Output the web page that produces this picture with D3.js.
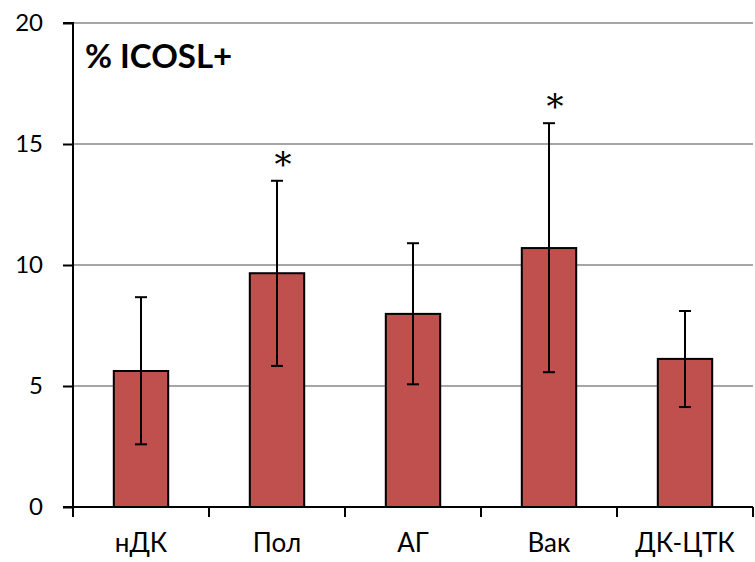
<!DOCTYPE html>
<html><head><meta charset="utf-8">
<script src="https://cdn.jsdelivr.net/npm/d3@7"></script>
<style>body{margin:0;background:#fff}svg{display:block}</style>
</head><body>
<script>
const categories = ["нДК", "Пол", "АГ", "Вак", "ДК-ЦТК"];
const values = [5.62, 9.66, 7.98, 10.70, 6.12];
const errUpper = [8.67, 13.48, 10.9, 15.86, 8.1];
const errLower = [2.59, 5.83, 5.07, 5.57, 4.13];
const significant = [false, true, false, true, false];
const yTicks = [0, 5, 10, 15, 20];
const title = "% ICOSL+";

const W = 755, H = 562;
const svg = d3.select("body").append("svg").attr("width", W).attr("height", H);
const font = "Lato, 'Open Sans', sans-serif";

const x = d3.scaleBand().domain(categories).range([73, 753]).paddingInner(0).paddingOuter(0);
const y = d3.scaleLinear().domain([0, 20]).range([507, 23]);

// gridlines
svg.append("g").selectAll("line").data(yTicks.filter(d => d > 0)).join("line")
  .attr("x1", 73).attr("x2", 753)
  .attr("y1", d => y(d)).attr("y2", d => y(d))
  .attr("stroke", "#898989").attr("stroke-width", 1.5);

// bars
const bw = x.bandwidth() * 0.4;
svg.append("g").selectAll("rect").data(values).join("rect")
  .attr("x", (d, i) => x(categories[i]) + x.bandwidth() / 2 - bw / 2)
  .attr("y", d => y(d))
  .attr("width", bw)
  .attr("height", d => y(0) - y(d))
  .attr("fill", "#C0504D").attr("stroke", "#000").attr("stroke-width", 2);

// error bars
const eg = svg.append("g").attr("stroke", "#000").attr("stroke-width", 2);
categories.forEach((c, i) => {
  const cx = x(c) + x.bandwidth() / 2;
  eg.append("line").attr("x1", cx).attr("x2", cx).attr("y1", y(errUpper[i])).attr("y2", y(errLower[i]));
  eg.append("line").attr("x1", cx - 6).attr("x2", cx + 6).attr("y1", y(errUpper[i])).attr("y2", y(errUpper[i]));
  eg.append("line").attr("x1", cx - 6).attr("x2", cx + 6).attr("y1", y(errLower[i])).attr("y2", y(errLower[i]));
  if (significant[i]) {
    svg.append("text").attr("x", cx + 6).attr("y", y(errUpper[i]) - 5)
      .attr("text-anchor", "middle")
      .attr("font-family", "'DejaVu Serif', 'Liberation Serif', serif").attr("font-size", 34)
      .text("*");
  }
});

// y axis
const yAxis = d3.axisLeft(y).tickValues(yTicks).tickSize(10).tickPadding(20).tickFormat(d3.format("d"));
const ya = svg.append("g").attr("transform", "translate(73,0)").call(yAxis);
ya.select(".domain").attr("stroke", "#000").attr("stroke-width", 2).attr("d", "M-10,23H0V507H-10");
ya.selectAll(".tick line").attr("stroke", "#000").attr("stroke-width", 2);
ya.selectAll(".tick text").attr("font-family", font).attr("font-size", 24).attr("fill", "#000");

// x axis
const xAxis = d3.axisBottom(x).tickSize(0).tickPadding(27);
const xa = svg.append("g").attr("transform", "translate(0,507)").call(xAxis);
xa.select(".domain").attr("stroke", "#000").attr("stroke-width", 2).attr("d", "M63,0H753");
xa.selectAll(".tick text").attr("font-family", font).attr("font-size", 26).attr("fill", "#000");
const xTickPos = d3.range(categories.length + 1).map(i => 73 + i * x.bandwidth());
xa.append("g").selectAll("line").data(xTickPos).join("line")
  .attr("x1", d => d).attr("x2", d => d).attr("y1", 0).attr("y2", 10)
  .attr("stroke", "#000").attr("stroke-width", 2);

// title
svg.append("text").attr("x", 85).attr("y", 68)
  .attr("font-family", font).attr("font-weight", "bold").attr("font-size", 33)
  .text(title);
</script>
</body></html>
